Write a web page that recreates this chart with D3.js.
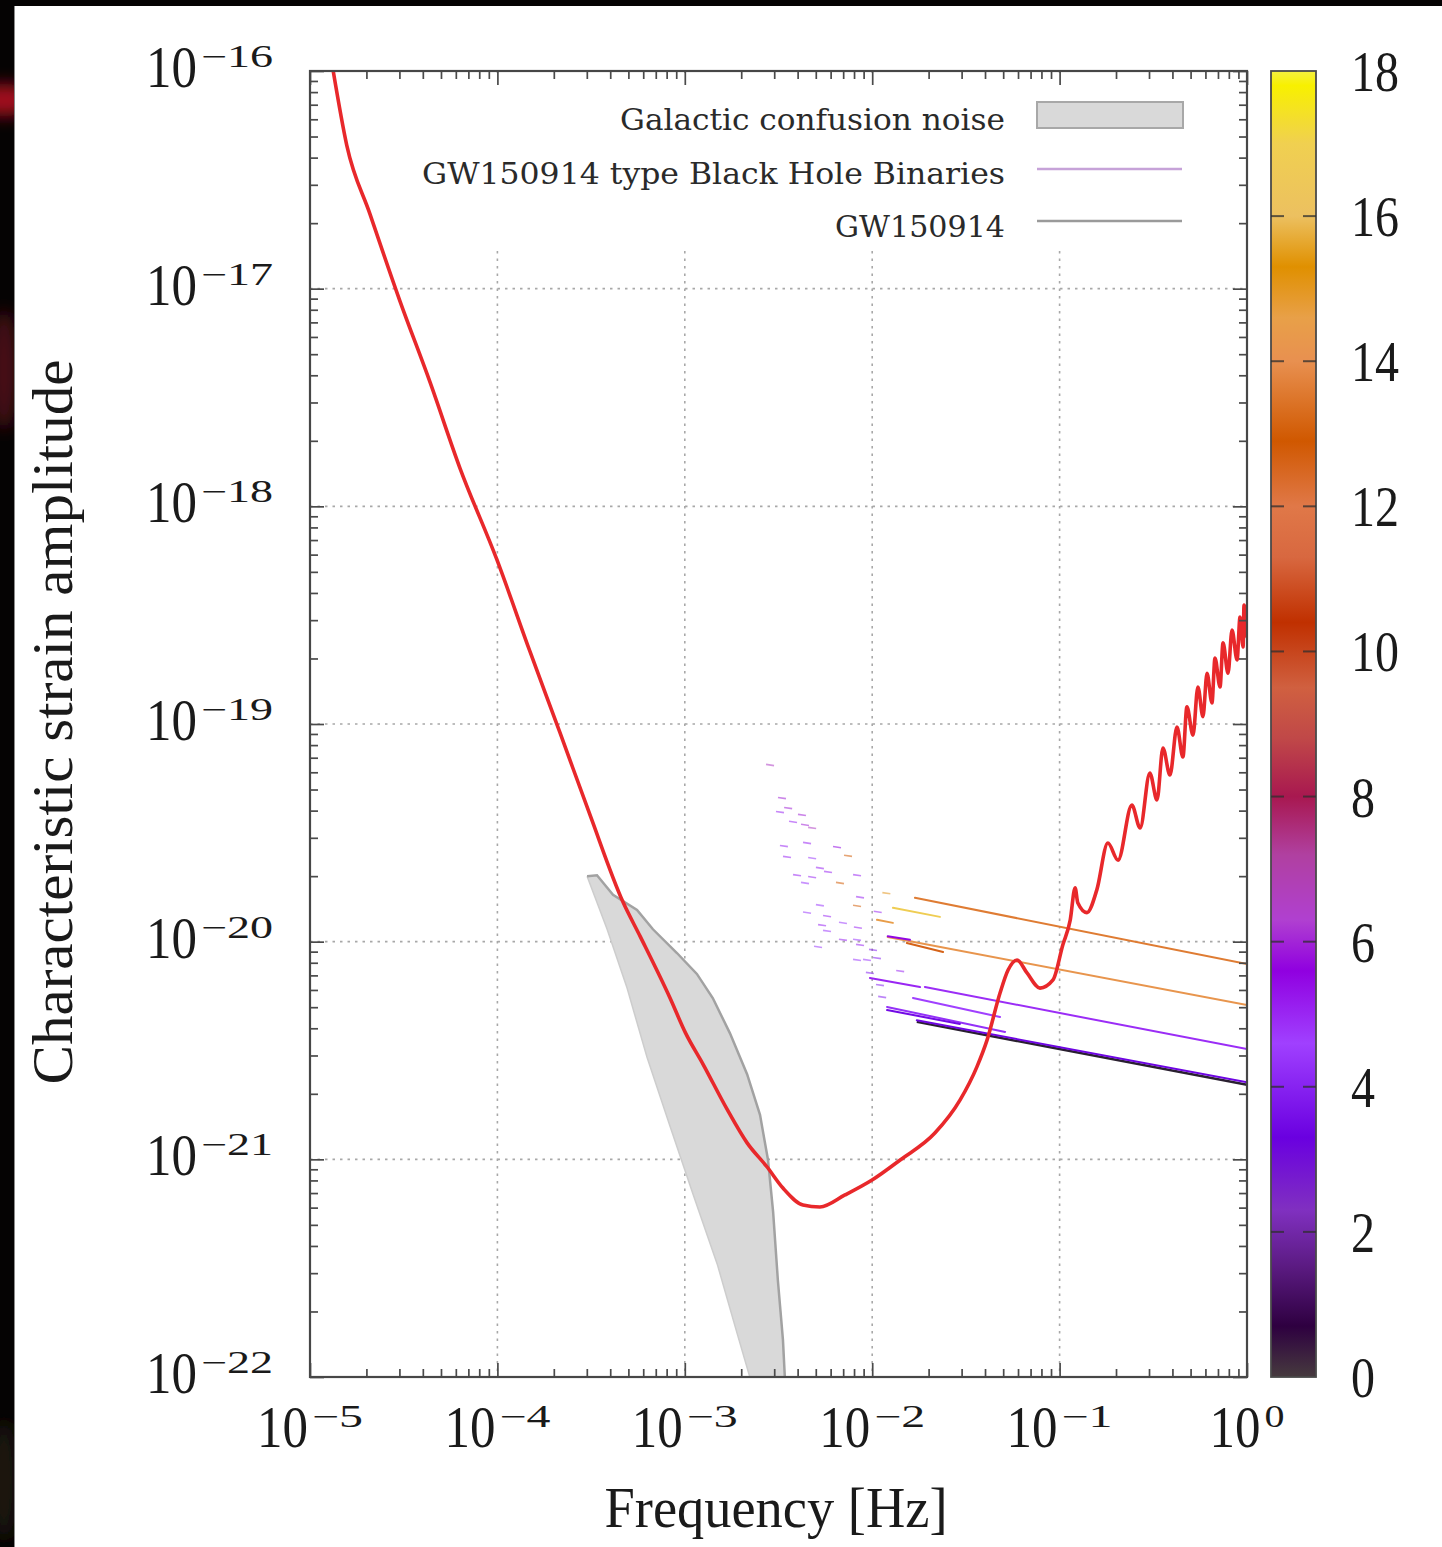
<!DOCTYPE html>
<html>
<head>
<meta charset="utf-8">
<script src="https://cdn.jsdelivr.net/npm/d3@7"></script>
<style>
  html, body { margin: 0; padding: 0; background: #000; }
  svg { display: block; }
</style>
</head>
<body>
<svg id="chart" width="1442" height="1547"></svg>
<script>
// ---- Sensitivity curve (characteristic strain vs frequency) ----
const lisaFreq = [1.33e-5, 1.57e-5, 2.09e-5, 3.02e-5, 4.37e-5, 6.31e-5, 9.95e-5, 1.49e-4, 2.16e-4, 3.12e-4,
  4.68e-4, 5.77e-4, 8.34e-4, 1.01e-3, 1.25e-3, 1.68e-3, 2.15e-3, 2.75e-3, 3.34e-3, 4.27e-3,
  5.26e-3, 7.16e-3, 9.98e-3, 1.41e-2, 2.16e-2, 2.94e-2, 3.62e-2, 4.10e-2, 4.81e-2, 5.31e-2,
  5.93e-2, 6.70e-2, 7.86e-2, 9.22e-2, 1.04e-1, 1.14e-1, 1.21e-1, 1.25e-1, 1.40e-1, 1.58e-1,
  1.81e-1, 2.05e-1, 2.43e-1, 2.69e-1, 3.03e-1, 3.31e-1, 3.56e-1, 3.88e-1, 4.23e-1, 4.55e-1,
  4.78e-1, 5.15e-1, 5.47e-1, 5.82e-1, 6.12e-1, 6.50e-1, 6.75e-1, 7.18e-1, 7.45e-1, 7.92e-1,
  8.32e-1, 8.85e-1, 9.18e-1, 9.53e-1, 9.64e-1, 1.0];
const lisaStrain = [1.0e-16, 4.57e-17, 2.20e-17, 8.77e-18, 3.72e-18, 1.50e-18, 5.67e-19, 2.16e-19, 9.10e-20, 3.82e-20,
  1.52e-20, 1.06e-20, 5.51e-21, 3.80e-21, 2.74e-21, 1.70e-21, 1.19e-21, 9.22e-22, 7.38e-22, 6.17e-22,
  6.04e-22, 6.86e-22, 8.03e-22, 9.93e-22, 1.32e-21, 1.87e-21, 2.66e-21, 3.53e-21, 5.81e-21, 7.41e-21,
  8.24e-21, 7.18e-21, 6.12e-21, 6.67e-21, 9.66e-21, 1.26e-20, 1.77e-20, 1.51e-20, 1.36e-20, 1.73e-20,
  2.84e-20, 2.37e-20, 4.24e-20, 3.33e-20, 5.95e-20, 4.48e-20, 7.76e-20, 5.83e-20, 9.68e-20, 7.05e-20,
  1.20e-19, 8.89e-20, 1.48e-19, 1.08e-19, 1.71e-19, 1.25e-19, 2.01e-19, 1.48e-19, 2.36e-19, 1.71e-19,
  2.70e-19, 1.97e-19, 3.10e-19, 2.26e-19, 3.52e-19, 2.51e-19];

// ---- Galactic confusion noise band: upper and lower edges ----
const galUpperFreq = [3.01e-4, 3.40e-4, 4.14e-4, 5.56e-4, 6.76e-4, 9.08e-4, 1.16e-3, 1.41e-3, 1.74e-3, 2.15e-3, 2.52e-3, 2.78e-3, 2.96e-3, 3.14e-3, 3.34e-3, 3.42e-3];
const galUpperStrain = [2.00e-20, 2.02e-20, 1.64e-20, 1.40e-20, 1.14e-20, 8.87e-21, 7.11e-21, 5.51e-21, 3.80e-21, 2.46e-21, 1.60e-21, 9.93e-22, 5.73e-22, 2.76e-22, 1.48e-22, 9.9e-23];
const galLowerFreq = [3.01e-4, 3.85e-4, 4.92e-4, 6.28e-4, 8.34e-4, 1.11e-3, 1.49e-3, 1.90e-3, 2.23e-3];
const galLowerStrain = [2.00e-20, 1.14e-20, 6.12e-21, 2.95e-21, 1.42e-21, 6.86e-22, 3.30e-22, 1.59e-22, 9.9e-23];

// ---- GW150914-type black hole binaries (tracks) ----
const binFreqStart   = [1.69e-2, 1.29e-2, 1.06e-2, 1.21e-2, 1.21e-2, 1.53e-2, 9.72e-3, 1.91e-2, 1.65e-2, 1.20e-2, 1.20e-2, 1.73e-2];
const binFreqEnd     = [1.0, 2.30e-2, 1.29e-2, 1.0, 1.59e-2, 2.39e-2, 1.80e-2, 1.0, 4.81e-2, 5.12e-2, 2.94e-2, 1.0];
const binStrainStart = [1.59e-20, 1.43e-20, 1.26e-20, 1.05e-20, 1.06e-20, 9.86e-21, 6.81e-21, 6.19e-21, 5.51e-21, 5.01e-21, 4.85e-21, 4.35e-21];
const binStrainEnd   = [7.89e-21, 1.30e-20, 1.22e-20, 5.12e-21, 1.02e-20, 8.97e-21, 6.19e-21, 3.21e-21, 4.51e-21, 3.85e-21, 4.19e-21, 2.26e-21];
const binSnr         = [13.6, 16.8, 14.5, 14.2, 5.5, 12.6, 5.0, 4.9, 4.6, 4.3, 3.5, 3.4];

// short-lived low-frequency sources
const dotFreq = [2.85e-3, 3.30e-3, 3.22e-3, 3.56e-3, 4.22e-3, 3.78e-3, 4.38e-3, 4.78e-3, 4.49e-3, 3.38e-3,
  6.49e-3, 7.43e-3, 4.78e-3, 3.51e-3, 5.26e-3, 5.81e-3, 3.97e-3, 4.78e-3, 4.38e-3, 6.73e-3,
  8.30e-3, 8.61e-3, 8.30e-3, 5.26e-3, 4.49e-3, 5.74e-3, 6.98e-3, 5.40e-3, 8.39e-3, 5.74e-3,
  6.98e-3, 5.14e-3, 8.30e-3, 8.61e-3, 1.01e-2, 9.38e-3, 8.30e-3, 1.06e-2, 9.72e-3, 1.10e-2,
  1.13e-2, 1.41e-2, 1.07e-2, 1.19e-2];
const dotStrain = [6.48e-20, 4.57e-20, 3.94e-20, 4.11e-20, 3.82e-20, 3.55e-20, 3.44e-20, 3.33e-20, 2.84e-20, 2.75e-20,
  2.72e-20, 2.48e-20, 2.42e-20, 2.45e-20, 2.18e-20, 2.09e-20, 2.02e-20, 1.98e-20, 1.86e-20, 1.86e-20,
  2.02e-20, 1.60e-20, 1.46e-20, 1.47e-20, 1.36e-20, 1.31e-20, 1.22e-20, 1.19e-20, 1.16e-20, 1.12e-20,
  1.02e-20, 9.46e-21, 1.02e-20, 9.66e-21, 9.16e-21, 8.24e-21, 8.24e-21, 8.41e-21, 7.18e-21, 6.32e-21,
  5.57e-21, 7.33e-21, 1.37e-20, 1.67e-20];
const dotSnr = [6.5, 6, 5, 6, 6, 5, 6, 6.5, 5, 5, 5.5, 13, 4.5, 5, 5, 5, 5, 5, 4.5, 13,
  5, 5, 13, 4.5, 4.5, 5, 4.5, 5, 5, 4.5, 5, 4.5, 4.5, 5, 4, 4.5, 4.5, 4, 4, 4, 4, 5, 5, 15];

// GW150914 itself
const gwFreq = [1.73e-2, 1.0];
const gwStrain = [4.28e-21, 2.20e-21];

// ---- Axis ticks and colour bar ----
const xTickExps = [-5, -4, -3, -2, -1, 0];
const yTickExps = [-22, -21, -20, -19, -18, -17, -16];
const cbTicks = [0, 2, 4, 6, 8, 10, 12, 14, 16, 18];
const cmapValues = [0, 0.7, 1.5, 2.3, 3.3, 4.6, 5.6, 6.3, 7.2, 8.0, 8.8, 9.5, 10.4, 11.3, 12.0, 12.9, 14.0, 14.6, 15.3, 16.0, 17.0, 17.8, 18];
const cmapColors = ["#463a3e", "#2e0040", "#5a1a80", "#8030c0", "#6a00e0", "#a040ff", "#9000e0", "#b040d0", "#b040a0", "#a81850",
  "#c04848", "#d06040", "#c03000", "#d86840", "#e07848", "#d05800", "#e89050", "#e8a048", "#e09000", "#ecc060",
  "#f0d050", "#f8f000", "#f4f040"];

const legendLabels = ["Galactic confusion noise", "GW150914 type Black Hole Binaries", "GW150914"];

// ---------------------------------------------------------------
const W = 1442, H = 1547;
const PL = 310, PR = 1247, PT = 71, PB = 1377;
const serif = "'Liberation Serif', 'Times New Roman', serif";
const legendFont = "'DejaVu Serif', serif";

const svg = d3.select("#chart");
const defs = svg.append("defs");

const x = d3.scaleLog().domain([1e-5, 1]).range([PL, PR]);
const y = d3.scaleLog().domain([1e-22, 1e-16]).range([PB, PT]);
const cbY = d3.scaleLinear().domain([0, 18]).range([PB, PT]);
const cmap = d3.scaleLinear().domain(cmapValues).range(cmapColors).clamp(true);

// dark surround with a faint red glow on the left
svg.append("rect").attr("width", W).attr("height", H).attr("fill", "#050303");
defs.append("filter").attr("id", "glow").append("feGaussianBlur").attr("stdDeviation", 8);
defs.append("clipPath").attr("id", "leftStrip").append("rect").attr("x", 0).attr("y", 0).attr("width", 14).attr("height", H);
const glow = svg.append("g").attr("clip-path", "url(#leftStrip)").attr("filter", "url(#glow)");
glow.append("ellipse").attr("cx", 4).attr("cy", 100).attr("rx", 30).attr("ry", 16).attr("fill", "#a0101e");
glow.append("ellipse").attr("cx", 4).attr("cy", 370).attr("rx", 14).attr("ry", 60).attr("fill", "#4a0a12");
glow.append("ellipse").attr("cx", 4).attr("cy", 1480).attr("rx", 14).attr("ry", 60).attr("fill", "#1c1408");

// white page
svg.append("rect").attr("x", 14).attr("y", 6).attr("width", W - 14).attr("height", H - 6).attr("fill", "#ffffff");
svg.append("line").attr("x1", 14.5).attr("x2", 14.5).attr("y1", 6).attr("y2", H).attr("stroke", "#8c8c8c").attr("stroke-width", 1);

defs.append("clipPath").attr("id", "plotArea").append("rect")
  .attr("x", PL).attr("y", PT).attr("width", PR - PL).attr("height", PB - PT);

// dotted grid
const grid = svg.append("g").attr("stroke", "#a8a8a8").attr("stroke-width", 1.6).attr("stroke-dasharray", "2.5,5");
grid.selectAll(".gy").data(yTickExps.slice(1, -1)).join("line")
  .attr("x1", PL).attr("x2", PR).attr("y1", d => y(Math.pow(10, d))).attr("y2", d => y(Math.pow(10, d)));
grid.selectAll(".gx").data(xTickExps.slice(1, -1)).join("line")
  .attr("y1", PT).attr("y2", PB).attr("x1", d => x(Math.pow(10, d))).attr("x2", d => x(Math.pow(10, d)));

// opaque legend background
svg.append("rect").attr("x", 412).attr("y", 73).attr("width", 832).attr("height", 177).attr("fill", "#ffffff");

const plot = svg.append("g").attr("clip-path", "url(#plotArea)");

// galactic confusion band
const upperPts = galUpperFreq.map((f, i) => [x(f), y(galUpperStrain[i])]);
const lowerPts = galLowerFreq.map((f, i) => [x(f), y(galLowerStrain[i])]);
plot.append("path")
  .attr("d", d3.line()(upperPts.concat(lowerPts.slice().reverse())) + "Z")
  .attr("fill", "#d9d9d9").attr("stroke", "none");
plot.append("path").attr("d", d3.line()(lowerPts)).attr("fill", "none").attr("stroke", "#cdcdcd").attr("stroke-width", 1.5);
plot.append("path").attr("d", d3.line()(upperPts)).attr("fill", "none").attr("stroke", "#a2a2a2").attr("stroke-width", 2.5);

// faint short-lived sources
plot.append("g").selectAll("line").data(dotFreq.map((f, i) => ({ f, h: dotStrain[i], s: dotSnr[i] }))).join("line")
  .attr("x1", d => x(d.f) - 4).attr("x2", d => x(d.f) + 4)
  .attr("y1", d => y(d.h) - 0.6).attr("y2", d => y(d.h) + 0.6)
  .attr("stroke", d => cmap(d.s)).attr("stroke-width", 1.6).attr("opacity", 0.55);

// GW150914 track
plot.append("path").attr("d", d3.line()(gwFreq.map((f, i) => [x(f), y(gwStrain[i])])))
  .attr("fill", "none").attr("stroke", "#2a2030").attr("stroke-width", 2.4);

// binary tracks coloured by SNR
plot.append("g").selectAll("line").data(binFreqStart.map((f, i) => ({
  f0: f, f1: binFreqEnd[i], h0: binStrainStart[i], h1: binStrainEnd[i], s: binSnr[i]
}))).join("line")
  .attr("x1", d => x(d.f0)).attr("x2", d => x(d.f1))
  .attr("y1", d => y(d.h0)).attr("y2", d => y(d.h1))
  .attr("stroke", d => cmap(d.s)).attr("stroke-width", 2).attr("stroke-linecap", "round");

// sensitivity curve
plot.append("path")
  .attr("d", d3.line().curve(d3.curveMonotoneX)
    .x((d, i) => x(lisaFreq[i])).y((d, i) => y(lisaStrain[i]))(lisaFreq))
  .attr("fill", "none").attr("stroke", "#e8282b").attr("stroke-width", 3.6)
  .attr("stroke-linejoin", "round").attr("stroke-linecap", "round");

// ---- frame and ticks ----
const decadeTicks = (lo, hi) => {
  const maj = [], min = [];
  for (let e = lo; e <= hi; e++) {
    maj.push(Math.pow(10, e));
    if (e < hi) for (let k = 2; k <= 9; k++) min.push(k * Math.pow(10, e));
  }
  return { maj, min };
};
const xt = decadeTicks(-5, 0), yt = decadeTicks(-22, -16);
const styleAxis = g => {
  g.select(".domain").remove();
  g.selectAll(".tick line").attr("stroke", "#4a4a4a").attr("stroke-width", 1.7);
  g.selectAll(".tick text").remove();
};
const axes = svg.append("g");
[[xt.maj, 14], [xt.min, 8]].forEach(([vals, len]) => {
  axes.append("g").attr("transform", `translate(0,${PB})`).call(d3.axisTop(x).tickValues(vals).tickSize(len)).call(styleAxis);
  axes.append("g").attr("transform", `translate(0,${PT})`).call(d3.axisBottom(x).tickValues(vals).tickSize(len)).call(styleAxis);
});
[[yt.maj, 14], [yt.min, 8]].forEach(([vals, len]) => {
  axes.append("g").attr("transform", `translate(${PL},0)`).call(d3.axisRight(y).tickValues(vals).tickSize(len)).call(styleAxis);
  axes.append("g").attr("transform", `translate(${PR},0)`).call(d3.axisLeft(y).tickValues(vals).tickSize(len)).call(styleAxis);
});
svg.append("rect").attr("x", PL).attr("y", PT).attr("width", PR - PL).attr("height", PB - PT)
  .attr("fill", "none").attr("stroke", "#474747").attr("stroke-width", 2.2);

// power-of-ten tick labels: one text element, base and raised exponent as tspans,
// drawn slightly taller than wide
const LABEL_SY = 1.18;
function powLabel(parent, px, py, exp, anchor) {
  const baseW = 51, gap = 4;
  const sup = exp === 0 ? "0" : "\u2212" + Math.abs(exp);
  const supW = exp === 0 ? 20 : 30 + 21 * String(Math.abs(exp)).length;
  const total = baseW + gap + supW;
  const x0 = anchor === "middle" ? -total / 2 : -total;
  const t = parent.append("text").attr("transform", `translate(${px},${py}) scale(1,${LABEL_SY})`)
    .attr("font-family", serif).attr("fill", "#1a1a1a").attr("x", x0).attr("y", 0);
  t.append("tspan").attr("font-size", baseW).text("10");
  t.append("tspan").attr("dx", gap).attr("dy", -20 / LABEL_SY).attr("font-size", 26)
    .attr("textLength", supW).attr("lengthAdjust", "spacingAndGlyphs").text(sup);
}
const labels = svg.append("g");
xTickExps.forEach(e => powLabel(labels, x(Math.pow(10, e)), 1447, e, "middle"));
yTickExps.forEach(e => powLabel(labels, 273, y(Math.pow(10, e)) + 16, e, "end"));

// axis titles
svg.append("text").attr("x", 776).attr("y", 1527).attr("text-anchor", "middle")
  .attr("font-family", serif).attr("font-size", 56).attr("fill", "#1a1a1a")
  .attr("textLength", 343).attr("lengthAdjust", "spacingAndGlyphs").text("Frequency [Hz]");
svg.append("text").attr("transform", "translate(72,722) rotate(-90)").attr("text-anchor", "middle")
  .attr("font-family", serif).attr("font-size", 58).attr("fill", "#1a1a1a")
  .attr("textLength", 725).attr("lengthAdjust", "spacingAndGlyphs").text("Characteristic strain amplitude");

// ---- legend ----
const legRowY = [130, 184, 237];
const legTextW = [385, 583, 170];
const leg = svg.append("g");
legendLabels.forEach((t, i) => {
  leg.append("text").attr("x", 1005).attr("y", legRowY[i]).attr("text-anchor", "end")
    .attr("font-family", legendFont).attr("font-size", 29).attr("fill", "#2a2a2a")
    .attr("textLength", legTextW[i]).attr("lengthAdjust", "spacingAndGlyphs").text(t);
});
leg.append("rect").attr("x", 1037).attr("y", 102).attr("width", 146).attr("height", 26)
  .attr("fill", "#d9d9d9").attr("stroke", "#a8a8a8").attr("stroke-width", 2);
leg.append("line").attr("x1", 1037).attr("x2", 1182).attr("y1", 169).attr("y2", 169)
  .attr("stroke", "#c6a2d8").attr("stroke-width", 2.5);
leg.append("line").attr("x1", 1037).attr("x2", 1182).attr("y1", 221).attr("y2", 221)
  .attr("stroke", "#9a9a9a").attr("stroke-width", 2.5);

// ---- colour bar ----
const grad = defs.append("linearGradient").attr("id", "cbGrad")
  .attr("x1", 0).attr("y1", 1).attr("x2", 0).attr("y2", 0);
cmapValues.forEach((v, i) => grad.append("stop").attr("offset", v / 18).attr("stop-color", cmapColors[i]));
const CBL = 1271, CBR = 1316;
svg.append("rect").attr("x", CBL).attr("y", PT).attr("width", CBR - CBL).attr("height", PB - PT)
  .attr("fill", "url(#cbGrad)").attr("stroke", "#4a4a4a").attr("stroke-width", 1.8);
const cbt = svg.append("g").attr("stroke", "#2e2e2e").attr("stroke-width", 2).attr("opacity", 0.75);
cbTicks.slice(1, -1).forEach(v => {
  cbt.append("line").attr("x1", CBL).attr("x2", CBL + 13).attr("y1", cbY(v)).attr("y2", cbY(v));
  cbt.append("line").attr("x1", CBR - 13).attr("x2", CBR).attr("y1", cbY(v)).attr("y2", cbY(v));
});
svg.append("g").selectAll("text").data(cbTicks).join("text")
  .attr("transform", d => `translate(1351,${cbY(d) + 20}) scale(1,${LABEL_SY})`)
  .attr("font-family", serif).attr("font-size", 48).attr("fill", "#1a1a1a")
  .text(d => d);
</script>
</body>
</html>
